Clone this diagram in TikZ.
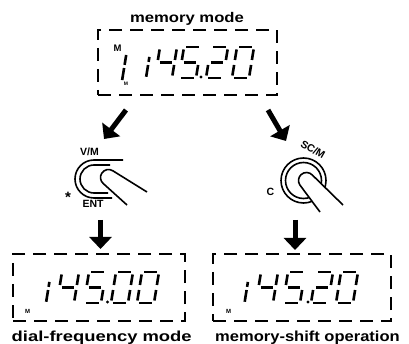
\documentclass[tikz,border=0pt]{standalone}
\usepackage{fontspec}
\setmainfont{Liberation Sans}
\usetikzlibrary{arrows.meta,positioning}

% seven segment pieces in a unit cell
\newcommand{\lcdA}{\draw[seg] (0.14,1) -- (0.86,1);}
\newcommand{\lcdB}{\draw[seg] (1,0.92) -- (1,0.58);}
\newcommand{\lcdC}{\draw[seg] (1,0.42) -- (1,0.08);}
\newcommand{\lcdD}{\draw[seg] (0.14,0) -- (0.86,0);}
\newcommand{\lcdE}{\draw[seg] (0,0.08) -- (0,0.42);}
\newcommand{\lcdF}{\draw[seg] (0,0.58) -- (0,0.92);}
\newcommand{\lcdG}{\draw[seg] (0.14,0.5) -- (0.86,0.5);}
\newcommand{\lcdHalf}{\draw[seg] (0,0.04) -- (0,0.42); \draw[seg] (0,0.52) -- (0,0.68);}
\newcommand{\dZero}{\lcdA\lcdB\lcdC\lcdD\lcdE\lcdF}
\newcommand{\dTwo}{\lcdA\lcdB\lcdG\lcdE\lcdD}
\newcommand{\dFour}{\lcdF\lcdG\lcdB\lcdC}
\newcommand{\dFive}{\lcdA\lcdF\lcdG\lcdC\lcdD}
\newcommand{\lcddigit}[3]{\begin{scope}[shift={(#1,#2)},x={(17pt,0pt)},y={(5pt,31pt)}]#3\end{scope}}

\begin{document}
\begin{tikzpicture}[x=1pt,y=-1pt,
    display/.style={draw,line width=1.8pt,dash pattern=on 13pt off 8pt,inner sep=0pt},
    seg/.style={line width=2.6pt},
    bigarrow/.style={line width=5pt,-{Triangle[length=12pt,width=22pt]}},
    lbl/.style={font=\fontsize{14.5}{16}\selectfont\bfseries,anchor=base},
    keylbl/.style={font=\fontsize{10.5}{12}\selectfont\bfseries,inner sep=0pt},
    tinylbl/.style={font=\fontsize{6}{6}\selectfont\bfseries,inner sep=0pt},
    bezel/.style={line width=1.6pt},
    finger/.style={line width=1.6pt,fill=white}]
    \useasboundingbox (0,0) rectangle (409,344);

    % displays
    \node[display,minimum width=179pt,minimum height=65pt] (memdisp) at (187.5,62.5) {};
    \node[display,minimum width=172pt,minimum height=67pt] (dialdisp) at (99,287.5) {};
    \node[display,minimum width=178pt,minimum height=67pt] (shiftdisp) at (302,287.5) {};

    \node[lbl,font=\fontsize{14}{16}\selectfont\bfseries,xscale=1.19] (memlbl) at (187,22.7) {memory mode};
    \node[lbl,xscale=1.27] (diallbl) at (101.7,341.3) {dial-frequency mode};
    \node[lbl,xscale=1.14] (shiftlbl) at (307.5,341.3) {memory-shift operation};

    % memory mode readout
    \node[tinylbl,font=\fontsize{9.5}{10}\selectfont\bfseries] (memM) at (117.5,48.5) {M};
    \node[tinylbl,font=\fontsize{5}{5}\selectfont\bfseries] (chM) at (126,84) {M};
    \lcddigit{122}{81}{\draw[seg] (0,0.03) -- (0,0.42); \draw[seg] (0,0.52) -- (0,0.84);}
    \lcddigit{146}{78}{\lcdHalf}
    \lcddigit{155}{78}{\dFour}
    \lcddigit{179}{78}{\dFive}
    \fill (201,77) circle[radius=1.7];
    \lcddigit{206}{78}{\dTwo}
    \lcddigit{232}{78}{\dZero}

    % dial frequency readout
    \node[tinylbl] (dialM) at (27.5,311) {M};
    \lcddigit{46}{303}{\lcdHalf}
    \lcddigit{57}{303}{\dFour}
    \lcddigit{84}{303}{\dFive}
    \fill (107.5,302) circle[radius=1.7];
    \lcddigit{111}{303}{\dZero}
    \lcddigit{137}{303}{\dZero}

    % memory shift readout
    \node[tinylbl] (shiftM) at (228.5,311) {M};
    \lcddigit{244.5}{303}{\lcdHalf}
    \lcddigit{256}{303}{\dFour}
    \lcddigit{283}{303}{\dFive}
    \fill (308,302) circle[radius=1.7];
    \lcddigit{311}{303}{\dTwo}
    \lcddigit{336}{303}{\dZero}

    % V/M key
    \draw[bezel] (123,160) -- (94,160) arc[start angle=-90,end angle=-270,radius=19] -- (112,198);
    \draw[bezel] (110,165) -- (94,165) arc[start angle=-90,end angle=-270,radius=14] -- (108,193);
    \draw[finger] (147,192) -- (112.74,170.72) arc[start angle=-58,end angle=-230,radius=8] -- (127,205);
    \node[keylbl] (vmlbl) at (89.5,152) {V/M};
    \node[keylbl] (entlbl) at (93,204) {ENT};
    \node[keylbl,font=\fontsize{15}{15}\selectfont\bfseries] (starlbl) at (68,197) {*};

    % SC/M key
    \draw[bezel] (303.5,180.5) circle[radius=22.5];
    \draw[bezel] (303.5,180.5) circle[radius=18];
    \draw[finger] (343,205) -- (312.45,175.15) arc[start angle=-42,end angle=-214,radius=8] -- (320,212);
    \node[keylbl,rotate=-30] (scmlbl) at (313,149.5) {SC/M};
    \node[keylbl] (clbl) at (270.5,192) {C};

    % arrows
    \coordinate (memL) at (126,110);
    \coordinate (vmkey) at (104,139);
    \coordinate (memR) at (268,110);
    \coordinate (sckey) at (286,141);
    \coordinate (vmbot) at (100.5,220);
    \coordinate (dialtop) at (100.5,249);
    \coordinate (scbot) at (295,220);
    \coordinate (shifttop) at (295,250);
    \draw[bigarrow] (memL) -- (vmkey);
    \draw[bigarrow] (memR) -- (sckey);
    \draw[bigarrow] (vmbot) -- (dialtop);
    \draw[bigarrow] (scbot) -- (shifttop);
\end{tikzpicture}
\end{document}
